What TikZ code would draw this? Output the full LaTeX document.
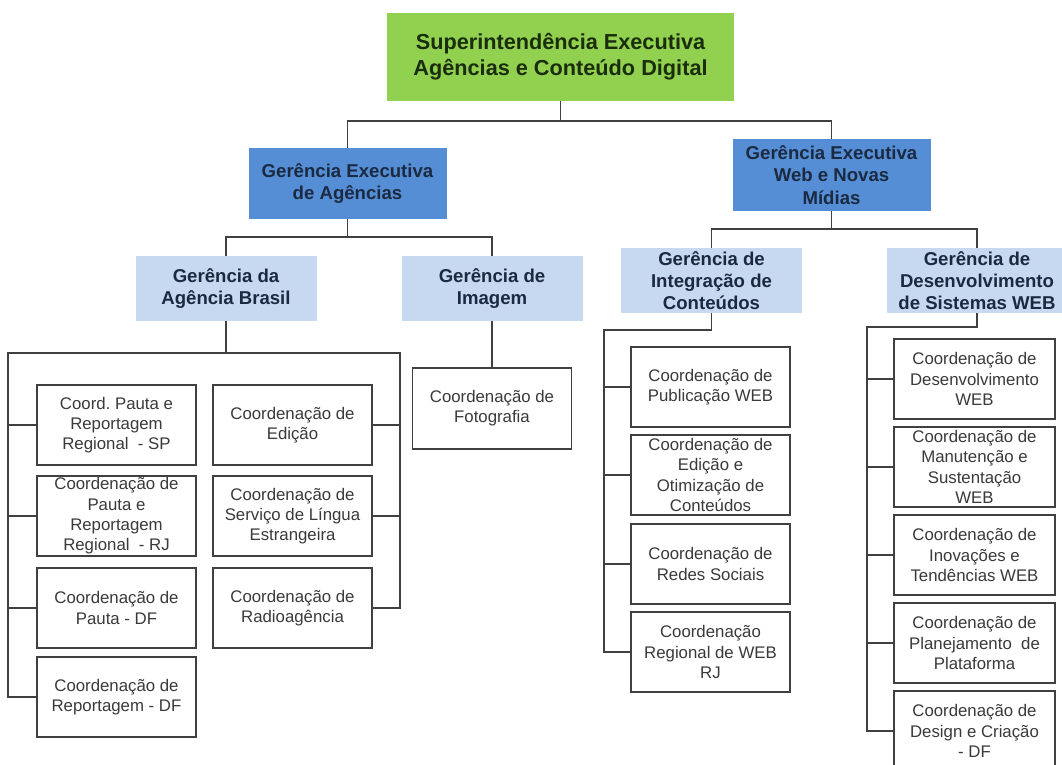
\documentclass[tikz,border=0pt]{standalone}
\usepackage{fontspec}
\setmainfont{Liberation Sans}
\frenchspacing
\definecolor{supgreen}{HTML}{92D050}
\definecolor{execblue}{HTML}{558ED5}
\definecolor{gerblue}{HTML}{C6D9F1}
\definecolor{linegray}{HTML}{404040}
\definecolor{navytext}{HTML}{1B2A41}
\definecolor{greentext}{HTML}{1A2E0C}
\definecolor{coordtext}{HTML}{3A3A3A}

\begin{document}
\begin{tikzpicture}[x=1pt,y=-1pt,
    topbox/.style={fill=supgreen,text=greentext,font=\bfseries\fontsize{21.7}{26}\selectfont,
        minimum width=347pt,minimum height=88pt,align=center,inner sep=0pt},
    execbox/.style={fill=execblue,text=navytext,font=\bfseries\fontsize{18.6}{22.5}\selectfont,
        minimum width=198pt,minimum height=71pt,align=center,inner sep=0pt},
    gerbox/.style={fill=gerblue,text=navytext,font=\bfseries\fontsize{18.6}{21.7}\selectfont,
        minimum width=181pt,minimum height=65pt,align=center,inner sep=0pt},
    coordbox/.style={draw=linegray,line width=1.5pt,fill=white,text=coordtext,
        font=\fontsize{16.8}{20.3}\selectfont,minimum width=159pt,minimum height=80pt,
        align=center,inner sep=0pt},
    link/.style={draw=linegray,line width=1.5pt}]

    \useasboundingbox[fill=white] (0,0) rectangle (1062,765);

    % direction and executive managements
    \node[topbox] (sup) at (560.5,57) {Superintendência Executiva\\Agências e Conteúdo Digital};
    \node[execbox] (gea) at (347.5,183.5) {Gerência Executiva\\de Agências};
    \node[execbox,minimum height=72pt] (gew) at (831.5,175) {Gerência Executiva\\Web e Novas\\Mídias};

    \node[gerbox] (gab) at (226,288.5) {Gerência da\\Agência Brasil};
    \node[gerbox] (gim) at (492,288.5) {Gerência de\\Imagem};
    \node[gerbox] (gic) at (711.5,280.5) {Gerência de\\Integração de\\Conteúdos};
    \node[gerbox] (gds) at (977,280.5) {Gerência de\\Desenvolvimento\\de Sistemas WEB};

    % Agência Brasil
    \node[coordbox] (a1) at (116.5,425) {Coord. Pauta e\\Reportagem\\Regional~ - SP};
    \node[coordbox] (a2) at (116.5,516) {Coordenação de\\Pauta e\\Reportagem\\Regional~ - RJ};
    \node[coordbox] (a3) at (116.5,608) {Coordenação de\\Pauta - DF};
    \node[coordbox] (a4) at (116.5,697) {Coordenação de\\Reportagem - DF};
    \node[coordbox] (b1) at (292.5,425) {Coordenação de\\Edição};
    \node[coordbox] (b2) at (292.5,516) {Coordenação de\\Serviço de Língua\\Estrangeira};
    \node[coordbox] (b3) at (292.5,608) {Coordenação de\\Radioagência};

    \node[coordbox,minimum height=81pt] (foto) at (492,408.5) {Coordenação de\\Fotografia};

    % Integração de Conteúdos
    \node[coordbox] (c1) at (710.5,387) {Coordenação de\\Publicação WEB};
    \node[coordbox] (c2) at (710.5,475) {Coordenação de\\Edição e\\Otimização de\\Conteúdos};
    \node[coordbox] (c3) at (710.5,564) {Coordenação de\\Redes Sociais};
    \node[coordbox] (c4) at (710.5,652) {Coordenação\\Regional de WEB\\RJ};

    % Desenvolvimento de Sistemas
    \node[coordbox,minimum width=161pt] (d1) at (974.5,379) {Coordenação de\\Desenvolvimento\\WEB};
    \node[coordbox,minimum width=161pt] (d2) at (974.5,467) {Coordenação de\\Manutenção e\\Sustentação\\WEB};
    \node[coordbox,minimum width=161pt] (d3) at (974.5,555) {Coordenação de\\Inovações e\\Tendências WEB};
    \node[coordbox,minimum width=161pt] (d4) at (974.5,643) {Coordenação de\\Planejamento~ de\\Plataforma};
    \node[coordbox,minimum width=161pt] (d5) at (974.5,731) {Coordenação de\\Design e Criação\\- DF};

    % links
    \draw[link] (sup.south) -- ++(0,20) -| (gea.north);
    \draw[link] (sup.south) -- ++(0,20) -| (gew.north);
    \draw[link] (gea.south) -- ++(0,18) -| (gab.north);
    \draw[link] (gea.south) -- ++(0,18) -| (gim.north);
    \draw[link] (gew.south) -- ++(0,18) -| (gic.north);
    \draw[link] (gew.south) -- ++(0,18) -| (gds.north);

    \coordinate (gabL) at (8,353);
    \coordinate (gabR) at (400,353);
    \draw[link] (gab.south) |- (gabL) |- (a4.west);
    \draw[link] (gab.south |- gabL) -- (gabR) |- (b3.east);
    \foreach \n in {a1,a2,a3}
        \draw[link] (\n.west -| gabL) -- (\n.west);
    \foreach \n in {b1,b2}
        \draw[link] (\n.east -| gabR) -- (\n.east);

    \draw[link] (gim.south) -- (foto.north);

    \coordinate (gicL) at (604,330);
    \draw[link] (gic.south) |- (gicL) |- (c4.west);
    \foreach \n in {c1,c2,c3}
        \draw[link] (\n.west -| gicL) -- (\n.west);

    \coordinate (gdsL) at (867,327);
    \draw[link] (gds.south) |- (gdsL) |- (d5.west);
    \foreach \n in {d1,d2,d3,d4}
        \draw[link] (\n.west -| gdsL) -- (\n.west);
\end{tikzpicture}
\end{document}
